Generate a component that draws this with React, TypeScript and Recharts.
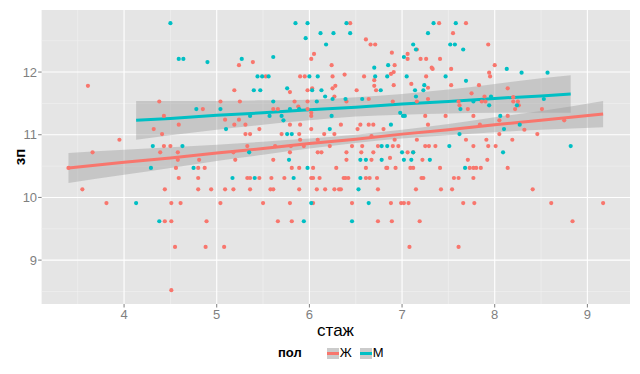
import { ComposedChart, Scatter, Line, Area, XAxis, YAxis, CartesianGrid } from 'recharts';

// стаж (x) и зп (y), женщины
const femaleStazh = [
  3.61, 4.38, 5.04, 4.85, 4.43, 4.59, 4.32, 3.95, 4.41, 4.43, 4.5, 3.66, 4.39, 4.58, 4.58, 4.81,
  4.56, 4.8, 4.87, 4.59, 4.8, 3.55, 4.44, 4.8, 4.94, 5.09, 3.81, 4.51, 4.61, 5.04, 4.44, 4.51,
  4.89, 4.55, 4.88, 5.08, 4.51, 3.4,
  6.44, 6.61, 6.66, 6.71, 6.05, 6.02, 5.24, 5.39, 6.89, 7.06, 7.06, 7.16, 6.24, 6.92, 6.91, 6.88,
  5.53, 5.9, 5.95, 6.25, 6.38, 6.59, 7.1, 6.7, 5.19, 5.79, 5.98, 6.03, 6.25, 6.28, 6.27, 6.51,
  6.7, 6.72, 6.91, 5.25, 5.84, 5.98, 6.4, 6.64, 6.9, 5.61, 5.66, 5.88, 5.98, 6.02, 5.09, 5.24,
  6.02, 5.19, 5.31, 5.79, 5.9, 6.34, 6.55, 6.64, 6.69, 5.46, 6.02, 6.52, 6.8, 5.31, 5.36, 5.7,
  5.89, 6.16, 6.27, 6.67, 6.09, 6.92, 5.9, 5.33, 5.63, 5.8, 5.94, 6.22, 6.46, 6.57, 6.74, 6.9,
  6.96, 5.18, 5.79, 6.09, 6.13, 6.4, 6.56, 6.69, 6.87, 7.06, 5.2, 5.61, 6.4, 6.67, 5.81, 5.89,
  6.04, 6.29, 6.61, 6.83, 6.84, 6.93, 7.09, 7.12, 5.33, 5.36, 5.46, 5.59, 5.73, 6.02, 6.04, 6.11,
  6.37, 6.39, 6.42, 6.61, 6.65, 6.73, 5.18, 5.36, 5.58, 5.61, 5.89, 6.08, 6.17, 6.27, 6.32, 6.34,
  6.74, 5.5, 5.79, 6.04, 6.46, 6.88, 6.99, 7.02, 7.07, 5.66, 5.81, 6.74, 6.89, 7.19, 7.08,
  7.4, 7.69, 7.55, 7.93, 7.2, 7.26, 7.41, 7.32, 7.33, 7.53, 8.0, 7.94, 7.95, 7.26, 7.28, 7.53,
  7.83, 8.14, 7.75, 7.89, 7.28, 8.2, 7.16, 7.61, 7.86, 7.9, 8.2, 8.25, 7.62, 8.26, 7.71, 8.22,
  8.51, 7.25, 7.47, 7.77, 8.14, 8.05, 8.75, 7.28, 7.84, 8.32, 8.05, 8.46, 7.16, 7.69, 7.91, 8.19,
  7.25, 7.29, 7.36, 7.77, 7.93, 8.01, 7.12, 7.71, 7.92, 7.22, 7.41, 7.73, 7.77, 7.8, 7.85, 8.14,
  7.21, 7.23, 7.56, 7.61, 7.77, 7.15, 7.42, 7.54, 8.41, 7.66, 7.78, 8.61, 9.17, 8.84, 7.61,
];
const femaleZp = [
  11.78, 11.53, 11.53, 11.41, 11.3, 11.16, 11.09, 10.92, 11.01, 10.82, 10.82, 10.72, 10.72, 10.72, 10.6, 10.6,
  10.47, 10.47, 10.47, 10.31, 10.31, 10.13, 10.13, 10.13, 10.13, 10.13, 9.91, 9.91, 9.91, 9.91, 9.62, 9.62,
  9.62, 9.21, 9.21, 9.21, 8.52, 10.47,
  12.78, 12.52, 12.44, 12.44, 12.29, 12.21, 12.11, 12.16, 12.31, 12.29, 12.21, 12.36, 12.11, 12.11, 12.0, 11.97,
  11.93, 11.93, 11.93, 11.93, 11.96, 11.93, 11.81, 11.87, 11.71, 11.68, 11.71, 11.74, 11.74, 11.78, 11.61, 11.71,
  11.78, 11.71, 11.79, 11.53, 11.53, 11.53, 11.53, 11.57, 11.53, 11.41, 11.41, 11.45, 11.41, 11.35, 11.24, 11.24,
  11.3, 11.16, 11.16, 11.16, 11.16, 11.16, 11.16, 11.16, 11.16, 11.09, 11.09, 11.09, 11.09, 11.01, 11.01, 11.01,
  11.01, 11.01, 11.01, 10.98, 10.92, 10.92, 10.92, 10.82, 10.82, 10.82, 10.82, 10.82, 10.82, 10.82, 10.82, 10.82,
  10.82, 10.72, 10.72, 10.72, 10.72, 10.72, 10.72, 10.72, 10.63, 10.72, 10.6, 10.6, 10.6, 10.6, 10.47, 10.47,
  10.47, 10.47, 10.47, 10.47, 10.47, 10.47, 10.47, 10.47, 10.31, 10.31, 10.31, 10.31, 10.31, 10.31, 10.31, 10.31,
  10.31, 10.31, 10.31, 10.31, 10.31, 10.31, 10.13, 10.13, 10.13, 10.13, 10.13, 10.13, 10.13, 10.13, 10.13, 10.13,
  10.13, 9.91, 9.91, 9.91, 9.91, 9.91, 9.91, 9.91, 9.91, 9.62, 9.62, 9.62, 9.62, 9.62, 9.21,
  12.78, 12.78, 12.62, 12.44, 12.21, 12.21, 12.21, 12.07, 12.05, 12.05, 12.11, 11.99, 11.93, 11.93, 11.75, 11.79,
  11.79, 11.74, 11.66, 11.61, 11.57, 11.6, 11.53, 11.53, 11.53, 11.53, 11.53, 11.53, 11.47, 11.47, 11.41, 11.41,
  11.41, 11.3, 11.3, 11.3, 11.3, 11.23, 11.23, 11.16, 11.16, 11.08, 11.01, 11.01, 10.92, 10.92, 10.92, 10.92,
  10.82, 10.82, 10.82, 10.82, 10.82, 10.82, 10.72, 10.6, 10.6, 10.6, 10.47, 10.47, 10.47, 10.47, 10.47, 10.47,
  10.31, 10.31, 10.31, 10.31, 10.31, 10.13, 10.13, 10.13, 10.13, 9.91, 9.91, 9.91, 9.91, 9.62, 9.21,
];

// мужчины
const maleStazh = [
  4.5, 4.59, 4.64, 4.9, 4.78, 5.04, 5.1, 4.31, 4.63, 4.29, 4.75, 4.13, 4.38,
  5.85, 5.98, 6.4, 5.96, 6.12, 6.26, 6.44, 6.18, 7.12, 5.27, 5.61, 7.02, 6.7, 6.85, 5.44,
  5.49, 5.56, 6.0, 6.09, 6.71, 6.84, 7.05, 5.4, 5.47, 5.76, 6.03, 6.13, 6.17, 6.25, 6.77,
  7.14, 5.61, 6.08, 6.39, 6.57, 5.79, 5.89, 6.98, 7.01, 7.03, 5.36, 5.57, 5.7, 6.24, 5.72,
  6.88, 6.22, 5.76, 5.81, 6.78, 6.84, 5.35, 7.0, 7.12, 5.78, 6.55, 6.61, 6.78, 7.02, 7.1,
  5.98, 5.17, 5.41, 5.83, 6.55, 6.53, 6.02, 6.64, 5.94, 6.46,
  7.34, 7.58, 7.28, 7.52, 7.57, 7.15, 7.66, 8.13, 8.29, 8.57, 7.47, 7.69, 7.24, 7.23, 7.96,
  7.15, 8.53, 7.77, 7.94, 8.24, 7.63, 8.06, 8.27, 8.1, 7.62, 7.51, 8.82, 8.09, 7.3, 7.68,
];
const maleZp = [
  12.78, 12.21, 12.21, 12.16, 11.41, 11.41, 11.09, 10.82, 10.82, 10.47, 10.47, 9.91, 9.62,
  12.78, 12.78, 12.78, 12.54, 12.62, 12.62, 12.62, 12.44, 12.44, 12.21, 12.24, 12.24, 12.07, 12.11, 11.93,
  11.93, 11.93, 11.93, 11.93, 11.93, 11.93, 11.93, 11.71, 11.71, 11.74, 11.71, 11.71, 11.61, 11.57, 11.71,
  11.71, 11.53, 11.53, 11.57, 11.57, 11.41, 11.41, 11.35, 11.3, 11.3, 11.3, 11.3, 11.3, 11.3, 11.23,
  11.16, 11.09, 11.01, 11.01, 10.82, 10.82, 10.72, 10.72, 10.72, 10.6, 10.6, 10.6, 10.6, 10.6, 10.6,
  10.47, 10.31, 10.31, 10.31, 10.31, 10.13, 9.91, 9.91, 9.62, 9.62,
  12.78, 12.78, 12.62, 12.44, 12.44, 12.36, 12.36, 12.05, 11.99, 11.99, 11.93, 11.86, 11.79, 11.71, 11.61,
  11.61, 11.57, 11.53, 11.47, 11.47, 11.41, 11.3, 11.16, 11.09, 11.01, 10.82, 10.82, 10.72, 10.6, 10.47,
];

// линии регрессии с доверительной полосой
const femaleFitX = [3.4, 4, 4.5, 5, 5.5, 6, 6.5, 7, 7.5, 8, 8.5, 9.17];
const femaleFitY = [10.47, 10.56, 10.63, 10.71, 10.78, 10.86, 10.93, 11.01, 11.08, 11.16, 11.23, 11.33];
const femaleLo = [10.23, 10.36, 10.47, 10.58, 10.68, 10.78, 10.87, 10.94, 10.99, 11.04, 11.08, 11.12];
const femaleHi = [10.71, 10.76, 10.8, 10.84, 10.89, 10.94, 11.0, 11.08, 11.17, 11.28, 11.38, 11.54];

const maleFitX = [4.13, 4.5, 5, 5.5, 6, 6.5, 7, 7.5, 8, 8.5, 8.82];
const maleFitY = [11.23, 11.26, 11.31, 11.35, 11.4, 11.44, 11.49, 11.53, 11.58, 11.62, 11.65];
const maleLo = [10.92, 10.99, 11.08, 11.16, 11.23, 11.29, 11.32, 11.34, 11.35, 11.35, 11.35];
const maleHi = [11.54, 11.54, 11.54, 11.55, 11.56, 11.6, 11.65, 11.72, 11.81, 11.9, 11.95];

const xTicks = [4, 5, 6, 7, 8, 9];
const yTicks = [9, 10, 11, 12];
const xMinor = [3.5, 4.5, 5.5, 6.5, 7.5, 8.5];
const yMinor = [8.5, 9.5, 10.5, 11.5, 12.5];

const RED = '#F8766D';
const CYAN = '#00BFC4';
const FONT = '"Liberation Sans", Arial, sans-serif';

const zip = (xs: number[], ys: number[]) => xs.map((x, i) => ({ x, y: ys[i] }));
const band = (xs: number[], lo: number[], hi: number[]) => xs.map((x, i) => ({ x, lo: lo[i], hi: hi[i] }));

const femalePts = zip(femaleStazh, femaleZp);
const malePts = zip(maleStazh, maleZp);
const femaleLine = zip(femaleFitX, femaleFitY);
const maleLine = zip(maleFitX, maleFitY);
const femaleBand = band(femaleFitX, femaleLo, femaleHi);
const maleBand = band(maleFitX, maleLo, maleHi);

const dot = (color: string) => (props: any) => (
  <circle cx={props.cx} cy={props.cy} r={2.1} fill={color} />
);

const LegendKey = ({ color }: { color: string }) => (
  <span style={{ display: 'inline-block', width: 12, height: 11, background: '#cbcbcb', position: 'relative', marginRight: 1 }}>
    <span style={{ position: 'absolute', left: 0, right: 0, top: 4, height: 3, background: color }} />
  </span>
);

export default function App() {
  return (
    <div style={{ position: 'absolute', left: 0, top: 0, width: 640, height: 374, background: '#fff', fontFamily: FONT }}>
      <ComposedChart width={640} height={374} margin={{ top: 10, right: 10, left: 0, bottom: 50 }}>
        <CartesianGrid fill="#e5e5e5" stroke="#f2f2f2" strokeWidth={0.6} verticalValues={xMinor} horizontalValues={yMinor} />
        <CartesianGrid stroke="#ffffff" strokeWidth={1.1} verticalValues={xTicks} horizontalValues={yTicks} />
        <XAxis
          type="number"
          dataKey="x"
          domain={[3.11, 9.46]}
          ticks={xTicks}
          allowDataOverflow
          height={20}
          axisLine={false}
          tickSize={3.5}
          tickMargin={2}
          tickLine={{ stroke: '#7f7f7f' }}
          tick={{ fill: '#7f7f7f', fontSize: 13, fontFamily: FONT }}
        />
        <YAxis
          type="number"
          dataKey="y"
          domain={[8.3, 12.99]}
          ticks={yTicks}
          allowDataOverflow
          width={41.6}
          axisLine={false}
          tickSize={3.5}
          tickMargin={1}
          tickLine={{ stroke: '#7f7f7f' }}
          tick={{ fill: '#7f7f7f', fontSize: 13, fontFamily: FONT }}
        />
        <Scatter data={femalePts} dataKey="y" shape={dot(RED)} isAnimationActive={false} />
        <Scatter data={malePts} dataKey="y" shape={dot(CYAN)} isAnimationActive={false} />
        <Area data={femaleBand} dataKey={(d: any) => [d.lo, d.hi]} type="monotone" stroke="none" fill="#999999" fillOpacity={0.4} isAnimationActive={false} />
        <Line data={femaleLine} dataKey="y" type="linear" stroke={RED} strokeWidth={3} dot={false} activeDot={false} isAnimationActive={false} />
        <Area data={maleBand} dataKey={(d: any) => [d.lo, d.hi]} type="monotone" stroke="none" fill="#999999" fillOpacity={0.4} isAnimationActive={false} />
        <Line data={maleLine} dataKey="y" type="linear" stroke={CYAN} strokeWidth={3} dot={false} activeDot={false} isAnimationActive={false} />
      </ComposedChart>
      <div style={{ position: 'absolute', left: 0, width: 640, paddingLeft: 31, boxSizing: 'border-box', top: 321, textAlign: 'center', fontSize: 17, color: '#000', lineHeight: '20px' }}>
        стаж
      </div>
      <div style={{ position: 'absolute', left: 19, top: 157, transform: 'translate(-50%, -50%) rotate(-90deg)', fontSize: 15, fontWeight: 'bold', color: '#000', whiteSpace: 'nowrap' }}>
        зп
      </div>
      <div style={{ position: 'absolute', left: 278, top: 344, display: 'flex', alignItems: 'center', fontSize: 13, color: '#000', lineHeight: '18px' }}>
        <span style={{ fontWeight: 'bold', marginRight: 25 }}>пол</span>
        <LegendKey color={RED} />
        <span style={{ marginRight: 8 }}>Ж</span>
        <LegendKey color={CYAN} />
        <span>М</span>
      </div>
    </div>
  );
}
